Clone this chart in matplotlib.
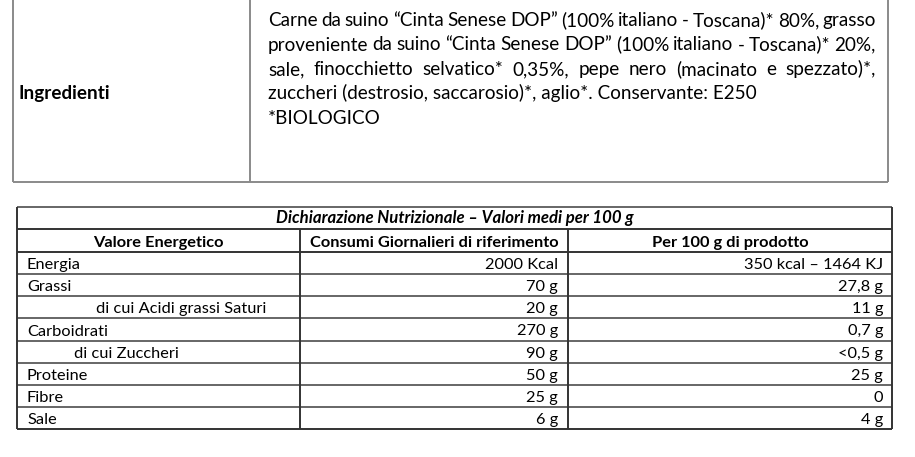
import matplotlib
matplotlib.use('Agg')
import matplotlib.pyplot as plt

plt.rcParams['font.family'] = ['Lato', 'DejaVu Sans']

# testo ingredienti (righe come nell'etichetta)
ingr_label = 'Ingredienti'
ingr_lines = [
    'Carne da suino \u201cCinta Senese DOP\u201d (100% italiano - Toscana)* 80%, grasso',
    'proveniente da suino \u201cCinta Senese DOP\u201d (100% italiano - Toscana)* 20%,',
    'sale, finocchietto selvatico* 0,35%, pepe nero (macinato e spezzato)*,',
    'zuccheri (destrosio, saccarosio)*, aglio*. Conservante: E250',
    '*BIOLOGICO',
]
ingr_justify = [True, True, True, False, False]

# tabella nutrizionale
title = 'Dichiarazione Nutrizionale \u2013 Valori medi per 100 g'
headers = ['Valore Energetico', 'Consumi Giornalieri di riferimento', 'Per 100 g di prodotto']
voci = ['Energia', 'Grassi', 'di cui Acidi grassi Saturi', 'Carboidrati',
        'di cui Zuccheri', 'Proteine', 'Fibre', 'Sale']
rientro = [0, 0, 69, 0, 47, 0, 0, 0]
rif = ['2000 Kcal', '70 g', '20 g', '270 g', '90 g', '50 g', '25 g', '6 g']
per100 = ['350 kcal \u2013 1464 KJ', '27,8 g', '11 g', '0,7 g', '<0,5 g', '25 g', '0', '4 g']

W, H = 915, 457
fig = plt.figure(figsize=(W / 100, H / 100), dpi=100)
ax = fig.add_axes([0, 0, 1, 1])
ax.set_xlim(0, W)
ax.set_ylim(H, 0)
ax.axis('off')
renderer = fig.canvas.get_renderer()


def hline(x0, x1, y, c, lw=1.4):
    ax.plot([x0, x1], [y, y], color=c, lw=lw, solid_capstyle='butt')


def vline(x, y0, y1, c, lw=1.4):
    ax.plot([x, x], [y0, y1], color=c, lw=lw, solid_capstyle='butt')


# ---- tabella ingredienti ----
L1, M1, R1, T1, B1 = 13, 250, 888, -3, 182
gray = '#8a8a8a'
hline(L1, R1, B1, gray)
vline(L1, T1, B1, gray)
vline(M1, T1, B1, gray)
vline(R1, T1, B1, gray)

fs_top = 13.6
ax.text(19, 99, ingr_label, fontsize=fs_top, fontweight='bold', va='baseline')

x0, x1 = 268, 876
y = 26
for line, just in zip(ingr_lines, ingr_justify):
    if not just:
        ax.text(x0, y, line, fontsize=fs_top, va='baseline')
    else:
        # giustificato: distribuisco lo spazio tra le parole
        words = line.split(' ')
        arts = [ax.text(0, y, w, fontsize=fs_top, va='baseline') for w in words]
        widths = [a.get_window_extent(renderer).width for a in arts]
        gap = (x1 - x0 - sum(widths)) / (len(words) - 1)
        xx = x0
        for a, w in zip(arts, widths):
            a.set_x(xx)
            xx += w + gap
    y += 24.5

# ---- tabella nutrizionale ----
L2, C1, C2, R2 = 17, 300, 568, 892
T2, Hd, R0 = 207, 229, 252
row_h = (429 - R0) / len(voci)
dark = '#333333'
inner = '#666666'

fs = 11.8
hline(L2, R2, T2, inner)
hline(L2, R2, Hd, dark)
hline(L2, R2, R0, dark)
for i in range(1, len(voci)):
    hline(L2, R2, R0 + i * row_h, inner)
bottom = R0 + len(voci) * row_h
hline(L2, R2, bottom, dark)
vline(L2, T2, bottom, dark)
vline(R2, T2, bottom, dark)
vline(C1, Hd, bottom, dark)
vline(C2, Hd, bottom, dark)

ax.text((L2 + R2) / 2, 223, title, fontsize=12.1, fontweight='bold', fontstyle='italic',
        ha='center', va='baseline')
centers = [(L2 + C1) / 2, (C1 + C2) / 2, (C2 + R2) / 2]
for cx, h in zip(centers, headers):
    ax.text(cx, 247, h, fontsize=fs, fontweight='bold', ha='center', va='baseline')

for i, (v, r, a, b) in enumerate(zip(voci, rientro, rif, per100)):
    yb = R0 + (i + 1) * row_h - 5
    ax.text(27 + r, yb, v, fontsize=fs, va='baseline')
    ax.text(558, yb, a, fontsize=fs, ha='right', va='baseline')
    ax.text(883, yb, b, fontsize=fs, ha='right', va='baseline')

fig.savefig('out.png', dpi=100, facecolor='white')
